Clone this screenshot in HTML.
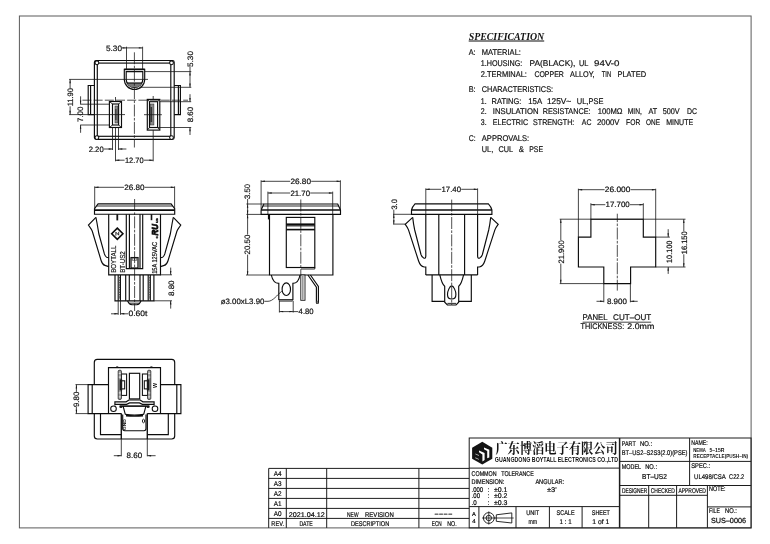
<!DOCTYPE html>
<html><head><meta charset="utf-8"><title>BT-US2</title>
<style>
html,body{margin:0;padding:0;background:#fff;}
body{width:770px;height:544px;overflow:hidden;font-family:"Liberation Sans",sans-serif;}
svg{display:block}
.o{fill:none;stroke:#0c0c0c;stroke-width:1.15}
.ot{fill:none;stroke:#0c0c0c;stroke-width:1.6}
.tl{fill:none;stroke:#1c1c1c;stroke-width:1}
.tl2{fill:none;stroke:#1c1c1c;stroke-width:1.5}
.of{fill:#fff;stroke:#0c0c0c;stroke-width:1.05}
.d{fill:none;stroke:#161616;stroke-width:.8}
.c{fill:none;stroke:#161616;stroke-width:.75;stroke-dasharray:12 1.4 2.6 1.4}
.f{fill:none;stroke:#5a5a5a;stroke-width:1}
.g{fill:none;stroke:#141414;stroke-width:.9}
.ar{fill:#141414;stroke:none}
.k{fill:#141414;stroke:none}
.gr{fill:#777;stroke:none}
.gthick{fill:none;stroke:#555;stroke-width:1.3;stroke-dasharray:1.6 .8}
.t{font-family:"Liberation Sans",sans-serif;fill:#111;stroke:#111;stroke-width:.2;text-rendering:geometricPrecision}
.t2{font-family:"Liberation Sans",sans-serif;fill:#0a0a0a;stroke:#0a0a0a;stroke-width:.2;text-rendering:geometricPrecision}
.tb{font-family:"Liberation Sans",sans-serif;fill:#111;font-weight:bold}
.ts{font-family:"Liberation Serif",serif;fill:#111;font-weight:bold;font-style:italic}
.tc{font-family:"Liberation Serif","Noto Serif CJK SC",serif;fill:#141414;font-weight:bold}
</style></head><body>
<svg width="770" height="544" viewBox="0 0 770 544">
<rect x="0" y="0" width="770" height="544" fill="#fff"/>
<defs><filter id="n" x="0" y="0" width="770" height="544" filterUnits="userSpaceOnUse" color-interpolation-filters="sRGB"><feOffset dx="0" dy="0"/></filter></defs>
<g filter="url(#n)">
<rect class="f" x="19.4" y="16" width="731.7" height="511.9"/>
<rect class="o" x="94.4" y="60.5" width="79.8" height="78.9" rx="1.8"/>
<rect class="o" x="97.3" y="63.1" width="73.5" height="73.2"/>
<circle class="of" cx="96.9" cy="62.8" r="1.9"/>
<circle class="of" cx="171.5" cy="62.8" r="1.9"/>
<circle class="of" cx="96.9" cy="137.6" r="1.9"/>
<circle class="of" cx="171.5" cy="137.6" r="1.9"/>
<path class="o" d="M94.4 85.5H88.2V114.6H94.4M90.6 85.5V114.6"/>
<path class="o" d="M174.2 85.5H180.4V114.6H174.2M178.4 85.5V114.6"/>
<path class="o" d="M124.3 69.3H144.7V79.3A10.2 10.2 0 0 1 124.3 79.3Z"/>
<path class="ot" d="M124.3 69.4L144.7 69.4"/>
<path class="o" d="M126.2 71.6H142.8V79.3A8.3 8.3 0 0 1 126.2 79.3Z"/>
<path class="gr" d="M127.1 83H141.9A8.3 8.3 0 0 1 127.1 83Z"/>
<path class="o" d="M127 83L142 83"/>
<rect class="o" x="109.4" y="101.5" width="12.1" height="26"/>
<rect class="o" x="112.5" y="104" width="6.1" height="21"/>
<path class="g" d="M109.4 101.5L112.5 104M121.5 101.5L118.6 104M109.4 127.5L112.5 125M121.5 127.5L118.6 125"/>
<rect x="115" y="106" width="2.8" height="17" fill="#8a8a8a" stroke="#333" stroke-width=".6"/>
<rect x="115.2" y="109" width="1.26" height="11" fill="#333"/>
<rect class="o" x="147.3" y="99.4" width="12.5" height="30.7"/>
<rect class="o" x="149.5" y="101.7" width="8.1" height="25.8"/>
<path class="g" d="M147.3 99.4L149.5 101.7M159.8 99.4L157.6 101.7M147.3 130.1L149.5 127.5M159.8 130.1L157.6 127.5"/>
<rect x="150.3" y="104" width="3.6" height="21" fill="#8a8a8a" stroke="#333" stroke-width=".6"/>
<rect x="150.5" y="107" width="1.62" height="15" fill="#333"/>
<path class="c" style="stroke-dasharray:9 2.2" d="M82.4 100.2H188"/>
<path class="c" d="M134.4 52.3L134.4 147.5"/>
<path class="d" d="M144 114.7L161.9 114.7"/>
<path class="d" d="M115.5 97L115.5 101.5"/>
<path class="d" d="M153.2 96L153.2 99.4"/>
<path class="d" d="M126.5 46.7L126.5 69.3"/>
<path class="d" d="M142.6 46.7L142.6 69.3"/>
<path class="d" d="M122 47.9L142.6 47.9"/>
<polygon class="ar" points="126.5,47.9 122.7,47.2 122.7,48.6"/>
<polygon class="ar" points="142.6,47.9 138.8,47.2 138.8,48.6"/>
<text class="t" x="106" y="50.7" font-size="7.8" textLength="16" lengthAdjust="spacingAndGlyphs">5.30</text>
<path class="d" d="M144.7 71.6L191.3 71.6"/>
<path class="d" d="M140 87.3L191.3 87.3"/>
<path class="d" d="M190 67L190 87.3"/>
<polygon class="ar" points="190,71.6 189.3,75.4 190.7,75.4"/>
<polygon class="ar" points="190,87.3 189.3,83.5 190.7,83.5"/>
<text class="t" x="193.1" y="67" font-size="7.8" textLength="16" lengthAdjust="spacingAndGlyphs" transform="rotate(-90 193.1 67)">5.30</text>
<path class="d" d="M159.8 101.7L191.2 101.7"/>
<path class="d" d="M157.6 127.5L191.2 127.5"/>
<path class="d" d="M190 94.2L190 101.7"/>
<polygon class="ar" points="190,101.7 189.3,97.9 190.7,97.9"/>
<path class="d" d="M190 127.5L190 135"/>
<polygon class="ar" points="190,127.5 189.3,131.3 190.7,131.3"/>
<text class="t" x="192.6" y="122.3" font-size="7.8" textLength="15.4" lengthAdjust="spacingAndGlyphs" transform="rotate(-90 192.6 122.3)">8.60</text>
<path class="d" d="M69.1 79.4L148 79.4"/>
<path class="d" d="M69.1 114.6L125 114.6"/>
<path class="d" d="M70.1 79.4L70.1 88"/>
<path class="d" d="M70.1 106.3L70.1 114.6"/>
<polygon class="ar" points="70.1,79.4 69.4,83.2 70.8,83.2"/>
<polygon class="ar" points="70.1,114.6 69.4,110.8 70.8,110.8"/>
<text class="t" x="73.1" y="106.3" font-size="7.8" textLength="18.3" lengthAdjust="spacingAndGlyphs" transform="rotate(-90 73.1 106.3)">11.90</text>
<path class="d" d="M80.2 104.2L109.4 104.2"/>
<path class="d" d="M80.2 125L109.4 125"/>
<path class="d" d="M80.6 96.3L80.6 104.2"/>
<polygon class="ar" points="80.6,104.2 79.9,100.4 81.3,100.4"/>
<path class="d" d="M80.6 125L80.6 132.8"/>
<polygon class="ar" points="80.6,125 79.9,128.8 81.3,128.8"/>
<text class="t" x="83.2" y="122" font-size="7.8" textLength="15.5" lengthAdjust="spacingAndGlyphs" transform="rotate(-90 83.2 122)">7.00</text>
<path class="d" d="M112.5 127.5L112.5 150"/>
<path class="d" d="M118.5 127.5L118.5 150"/>
<path class="d" d="M104 149L112.5 149"/>
<polygon class="ar" points="112.5,149 108.7,148.3 108.7,149.7"/>
<path class="d" d="M118.5 149L126.4 149"/>
<polygon class="ar" points="118.5,149 122.3,148.3 122.3,149.7"/>
<text class="t" x="88.7" y="151.5" font-size="7.8" textLength="15" lengthAdjust="spacingAndGlyphs">2.20</text>
<path class="d" d="M115.5 127.5L115.5 161.3"/>
<path class="d" d="M153.2 130.1L153.2 161.3"/>
<path class="d" d="M115.5 160.2L124.6 160.2"/>
<path class="d" d="M144 160.2L153.2 160.2"/>
<polygon class="ar" points="115.5,160.2 119.3,159.5 119.3,160.9"/>
<polygon class="ar" points="153.2,160.2 149.4,159.5 149.4,160.9"/>
<text class="t" x="124.9" y="162.6" font-size="7.8" textLength="18.8" lengthAdjust="spacingAndGlyphs">12.70</text>
<path class="o" d="M98.1 203.8H171.1L174.7 208.6V214.2H94.5V208.6Z"/>
<path class="ot" d="M94.5 210.1L174.7 210.1"/>
<path class="g" d="M96.6 206L172.6 206"/>
<path class="o" d="M108.7 214.2V274.9H160.5V214.2"/>
<path class="o" d="M126.3 214.2V268.6H142.7V214.2M129.4 214.2V268.6M140 214.2V268.6"/>
<rect class="k" x="116.4" y="214.2" width="1.8" height="6.2"/>
<rect class="k" x="150.7" y="214.2" width="1.6" height="6"/>
<rect x="131" y="257.6" width="7" height="10.4" fill="#fff" stroke="#141414" stroke-width="1.3"/>
<rect x="131.6" y="258" width="5.8" height="2.6" fill="#555"/>
<rect x="132.6" y="258.6" width="1.4" height="1.2" fill="#fff"/><rect x="135" y="258.6" width="1.4" height="1.2" fill="#fff"/>
<path class="o" d="M95.9 217.3L88.4 225C89.6 227.2 91.4 228.8 92.3 231.3L101.1 260.5C102 263.4 102.9 264.8 104.9 265.4L108.7 266.6"/>
<path class="o" d="M95.9 217.3L97 223L98.9 234L104.4 253.9C105 255.8 105.6 256.8 106.6 257.2L108.7 257.7"/>
<path class="o" d="M173.3 217.3 L180.8 225 C179.6 227.2 177.8 228.8 176.9 231.3 L168.1 260.5 C167.2 263.4 166.3 264.8 164.3 265.4 L160.5 266.6 "/>
<path class="o" d="M173.3 217.3 L172.2 223 L170.3 234 L164.8 253.9 C164.2 255.8 163.6 256.8 162.6 257.2 L160.5 257.7 "/>
<path class="ot" d="M117.3 228.1L122.9 233.7L117.3 239.3L111.7 233.7Z"/>
<path class="g" d="M115.9 235.6V232.2L118.7 235.2V231.8"/>
<g transform="translate(158.4 238.6) rotate(-90)"><text class="tb" x="0" y="-.3" font-size="4.2" stroke="#0a0a0a" stroke-width=".3">c</text><text class="tb" x="3.1" y="0" font-size="9.6" font-style="italic" textLength="11.4" lengthAdjust="spacingAndGlyphs" stroke="#0a0a0a" stroke-width=".8">RU</text><text class="tb" x="15.6" y="-.3" font-size="4.2" stroke="#0a0a0a" stroke-width=".3">us</text></g>
<text class="t" x="116.4" y="272.8" font-size="7.2" textLength="27.2" lengthAdjust="spacingAndGlyphs" transform="rotate(-90 116.4 272.8)">BOYTALL</text>
<text class="t" x="124.6" y="272.8" font-size="7.2" textLength="21.5" lengthAdjust="spacingAndGlyphs" transform="rotate(-90 124.6 272.8)">BT-US2</text>
<text class="t" x="157.5" y="273.8" font-size="7.2" textLength="31.8" lengthAdjust="spacingAndGlyphs" transform="rotate(-90 157.5 273.8)">15A 125VAC</text>
<path class="o" d="M115 274.9V300.8H153.9V274.9"/>
<path class="o" d="M118.2 274.9L118.2 300.8"/>
<path class="o" d="M120.4 274.9L120.4 300.8"/>
<path class="o" d="M125.7 274.9L125.7 300.8"/>
<path class="o" d="M129.3 274.9L129.3 300.8"/>
<path class="o" d="M140 274.9L140 300.8"/>
<path class="o" d="M143.2 274.9L143.2 300.8"/>
<path class="o" d="M148.2 274.9L148.2 300.8"/>
<path class="o" d="M150.3 274.9L150.3 300.8"/>
<path class="gthick" d="M119.3 277L119.3 299"/>
<path class="gthick" d="M149.2 277L149.2 299"/>
<path class="o" d="M127.6 300.8C128.6 303.6 130 304.7 132 304.7H136.8C138.8 304.7 140 303.6 141 300.8"/>
<path class="g" d="M129 303.2L140 303.2"/>
<path class="c" d="M134.6 199L134.6 311"/>
<path class="d" d="M94.7 186.4L94.7 209"/>
<path class="d" d="M174.6 186.4L174.6 209"/>
<path class="d" d="M94.7 187.3L124 187.3"/>
<path class="d" d="M144.6 187.3L174.6 187.3"/>
<polygon class="ar" points="94.7,187.3 98.5,186.6 98.5,188"/>
<polygon class="ar" points="174.6,187.3 170.8,186.6 170.8,188"/>
<text class="t" x="124.2" y="189.8" font-size="7.8" textLength="20.3" lengthAdjust="spacingAndGlyphs">26.80</text>
<path class="d" d="M160.5 274.8L172 274.8"/>
<path class="d" d="M153.9 300.8L172 300.8"/>
<path class="d" d="M170.7 267.6L170.7 274.8"/>
<polygon class="ar" points="170.7,274.8 170,271 171.4,271"/>
<path class="d" d="M170.7 300.8L170.7 308.6"/>
<polygon class="ar" points="170.7,300.8 170,304.6 171.4,304.6"/>
<text class="t" x="174.4" y="296" font-size="7.8" textLength="15.6" lengthAdjust="spacingAndGlyphs" transform="rotate(-90 174.4 296)">8.80</text>
<path class="d" d="M118.2 300.8L118.2 314.8"/>
<path class="d" d="M120.5 300.8L120.5 314.8"/>
<path class="d" d="M111 313.8L118.2 313.8"/>
<polygon class="ar" points="118.2,313.8 114.4,313.1 114.4,314.5"/>
<path class="d" d="M120.5 313.8L128.2 313.8"/>
<polygon class="ar" points="120.5,313.8 124.3,313.1 124.3,314.5"/>
<text class="t" x="128.5" y="316.4" font-size="7.8" textLength="19" lengthAdjust="spacingAndGlyphs">0.60t</text>
<path class="o" d="M94.3 384.6V362.4Q94.3 359.4 97.3 359.4H171.7Q174.7 359.4 174.7 362.4V384.6M174.7 413.6V436Q174.7 439 171.7 439H97.3Q94.3 439 94.3 436V413.6"/>
<path class="o" d="M108.5 384.6H88.1V413.6H121.3M92.2 384.6V413.6"/>
<path class="o" d="M160.5 384.6H180.9V413.6H147.3M176.8 384.6V413.6"/>
<path class="o" d="M108.5 413.6V367.6H160.5V413.6"/>
<rect class="k" x="116.2" y="366.4" width="2" height="1.2"/>
<rect class="k" x="150.4" y="366.4" width="2" height="1.2"/>
<path class="o" d="M100.5 413.6V434.6H121.3M168.3 413.6V434.6H147.3"/>
<path class="d" d="M121.3 413.6L121.3 456.3"/>
<path class="d" d="M147.3 413.6L147.3 456.3"/>
<path class="o" d="M121.3 413.6L121.3 439"/>
<path class="o" d="M147.3 413.6L147.3 439"/>
<rect class="o" x="129.4" y="373.3" width="10.3" height="25.6"/>
<rect class="of" x="121.4" y="374" width="5.2" height="21.4"/>
<rect x="118.2" y="370.3" width="3.2" height="29.1" rx="1" fill="#a0a0a0" stroke="#1a1a1a" stroke-width=".8"/>
<rect x="118.8" y="372.8" width="2" height="1" fill="#eee"/>
<rect x="118.8" y="376.6" width="2" height="1" fill="#eee"/>
<rect x="118.8" y="392.4" width="2" height="1" fill="#eee"/>
<rect x="118.8" y="396.4" width="2" height="1" fill="#eee"/>
<rect class="of" x="120.6" y="380.8" width="4.1" height="8.1"/>
<rect x="119.6" y="379.4" width="2.6" height="11" fill="#1a1a1a"/>
<rect class="of" x="142.4" y="374" width="5.2" height="21.4"/>
<rect x="147.6" y="370.3" width="3.2" height="29.1" rx="1" fill="#a0a0a0" stroke="#1a1a1a" stroke-width=".8"/>
<rect x="148.2" y="372.8" width="2" height="1" fill="#eee"/>
<rect x="148.2" y="376.6" width="2" height="1" fill="#eee"/>
<rect x="148.2" y="392.4" width="2" height="1" fill="#eee"/>
<rect x="148.2" y="396.4" width="2" height="1" fill="#eee"/>
<rect class="of" x="144.3" y="380.8" width="4.1" height="8.1"/>
<rect x="146.8" y="379.4" width="2.6" height="11" fill="#1a1a1a"/>
<text class="tb" x="157" y="387.9" font-size="5.2" textLength="5" lengthAdjust="spacingAndGlyphs" transform="rotate(-90 157 387.9)">W</text>
<path class="o" d="M114.9 405.6V401.8H126.1L128.9 400H140.1L142.9 401.8H154.1V405.6"/>
<path class="o" d="M114.9 404.3H126.6L129.6 402.9H139.4L142.4 404.3H154.1"/>
<circle class="of" cx="113.5" cy="408.7" r="2.8"/>
<circle class="of" cx="155" cy="408.7" r="2.8"/>
<path class="ot" d="M119.6 406.1L149.4 406.1"/>
<rect class="k" x="119.6" y="406" width="2.6" height="1.9"/>
<rect class="k" x="146.8" y="406" width="2.6" height="1.9"/>
<path class="o" d="M123.1 406.1L125.3 414.3M145.9 406.1L143.7 414.3"/>
<path class="o" d="M125.2 414.4Q134.5 415.6 143.8 414.4"/>
<path class="ot" d="M126 415.6Q134.5 416.4 143 415.6"/>
<path class="o" d="M122.7 414.5V428.6Q122.7 430.7 124.8 430.7H143.9Q146 430.7 146 428.6V414.5"/>
<text class="tb" x="126.4" y="430.2" font-size="4.3" textLength="11" lengthAdjust="spacingAndGlyphs" transform="rotate(-90 126.4 430.2)">GND</text>
<ellipse cx="143.5" cy="421" rx="1.1" ry="1.8" class="g"/>
<path class="d" d="M75.5 384.6L88.1 384.6"/>
<path class="d" d="M75.5 413.6L88.1 413.6"/>
<path class="d" d="M76.4 384.6L76.4 391.8"/>
<path class="d" d="M76.4 407L76.4 413.6"/>
<polygon class="ar" points="76.4,384.6 75.7,388.4 77.1,388.4"/>
<polygon class="ar" points="76.4,413.6 75.7,409.8 77.1,409.8"/>
<text class="t" x="79.3" y="407" font-size="7.8" textLength="15.3" lengthAdjust="spacingAndGlyphs" transform="rotate(-90 79.3 407)">9.80</text>
<path class="d" d="M113.8 455.7L121.3 455.7"/>
<polygon class="ar" points="121.3,455.7 117.5,455 117.5,456.4"/>
<path class="d" d="M147.3 455.7L155.6 455.7"/>
<polygon class="ar" points="147.3,455.7 151.1,455 151.1,456.4"/>
<text class="t" x="126.6" y="458.2" font-size="7.8" textLength="15.6" lengthAdjust="spacingAndGlyphs">8.60</text>
<path class="o" d="M263.9 204H337.7L340.5 210V214.4H261.1V210Z"/>
<path class="ot" d="M261.1 210L340.5 210"/>
<path class="g" d="M262.6 206L339 206"/>
<path class="o" d="M269.5 214.4V275H332.9V214.4"/>
<path class="ot" d="M268.7 214.4L268.7 219.4"/>
<rect class="o" x="286.3" y="217.4" width="28.5" height="50.1"/>
<path class="ot" d="M286.3 224.2L314.8 224.2"/>
<path class="o" d="M286.3 225.8L314.8 225.8"/>
<path class="ot" d="M286.3 229.6L314.8 229.6"/>
<path class="g" d="M301 269L314.8 269"/>
<path class="g" d="M314.8 267.5L314.8 269"/>
<path class="c" d="M300.8 199.5L300.8 276"/>
<path class="o" d="M271.3 275C272.5 280.5 275 283.4 278.8 283.4V299.6H292.9V283.4C296.5 283.4 299 280.5 300 275"/>
<rect x="279.6" y="299.4" width="12.6" height="1.8" fill="#888" stroke="#222" stroke-width=".6"/>
<ellipse cx="286.3" cy="289.2" rx="4.2" ry="6.3" class="o"/>
<rect x="300.8" y="275" width="4.2" height="25.3" fill="#fff" stroke="#141414" stroke-width=".9"/>
<rect x="302" y="275.5" width="1.6" height="24.3" fill="#999"/>
<path class="o" d="M307.9 275L316.4 287.2V302.6Q317.4 304.4 318.4 302.6V286.4L310.4 275"/>
<ellipse cx="317.4" cy="302.2" rx=".8" ry="1.6" fill="#777"/>
<path class="d" d="M264.4 301.3H268C273 301.3 277 295 281.8 291.2"/>
<text class="t" x="220.7" y="303.7" font-size="7.8" textLength="43.7" lengthAdjust="spacingAndGlyphs">ø3.00xL3.90</text>
<path class="d" d="M261.1 180.3L261.1 209"/>
<path class="d" d="M340.4 180.3L340.4 209"/>
<path class="d" d="M261.1 181.3L290.2 181.3"/>
<path class="d" d="M311.2 181.3L340.4 181.3"/>
<polygon class="ar" points="261.1,181.3 264.9,180.6 264.9,182"/>
<polygon class="ar" points="340.4,181.3 336.6,180.6 336.6,182"/>
<text class="t" x="290.4" y="183.9" font-size="7.8" textLength="20.6" lengthAdjust="spacingAndGlyphs">26.80</text>
<path class="d" d="M267.9 191.6L267.9 214.4"/>
<path class="d" d="M332.7 191.6L332.7 214.4"/>
<path class="d" d="M267.9 193L290.2 193"/>
<path class="d" d="M310.2 193L332.7 193"/>
<polygon class="ar" points="267.9,193 271.7,192.3 271.7,193.7"/>
<polygon class="ar" points="332.7,193 328.9,192.3 328.9,193.7"/>
<text class="t" x="290.4" y="195.6" font-size="7.8" textLength="19.6" lengthAdjust="spacingAndGlyphs">21.70</text>
<path class="d" d="M246.4 204L263.9 204"/>
<path class="d" d="M246.4 214.4L261.1 214.4"/>
<path class="d" d="M246 275L269.5 275"/>
<path class="d" d="M247.6 199L247.6 234.5"/>
<path class="d" d="M247.6 254.6L247.6 275"/>
<polygon class="ar" points="247.6,204 246.9,207.8 248.3,207.8"/>
<polygon class="ar" points="247.6,214.4 246.9,210.6 248.3,210.6"/>
<polygon class="ar" points="247.6,214.4 246.9,218.2 248.3,218.2"/>
<polygon class="ar" points="247.6,275 246.9,271.2 248.3,271.2"/>
<text class="t" x="250.4" y="199" font-size="7.8" textLength="15" lengthAdjust="spacingAndGlyphs" transform="rotate(-90 250.4 199)">3.50</text>
<text class="t" x="250.4" y="254.4" font-size="7.8" textLength="19.7" lengthAdjust="spacingAndGlyphs" transform="rotate(-90 250.4 254.4)">20.50</text>
<path class="d" d="M279.4 301L279.4 312.5"/>
<path class="d" d="M293.2 301L293.2 312.5"/>
<path class="d" d="M279.4 311.6L298.3 311.6"/>
<polygon class="ar" points="279.4,311.6 283.2,310.9 283.2,312.3"/>
<polygon class="ar" points="293.2,311.6 289.4,310.9 289.4,312.3"/>
<text class="t" x="298.6" y="314.4" font-size="7.8" textLength="15" lengthAdjust="spacingAndGlyphs">4.80</text>
<path class="o" d="M415 203.8H488.4Q491 206.5 491.9 210V214.3H411.5V210Q412.4 206.5 415 203.8Z"/>
<path class="ot" d="M411.5 210L491.9 210"/>
<path class="d" d="M425.8 188.4L425.8 214.3"/>
<path class="d" d="M477.6 188.4L477.6 214.3"/>
<path class="o" d="M412.7 217.4L405.2 224.3C406.6 226.2 407.8 227.6 408.5 229.8L418.6 261C419.6 264 421 266.6 424.1 267H425.8V274.9"/>
<path class="o" d="M412.7 217.4C413.2 222 413.8 226 414.7 230L421 254.5C421.6 256.6 422.6 257.8 424 258.2C425.2 258.4 425.8 257.6 425.8 256V214.3"/>
<path class="o" d="M490.7 217.4 L498.2 224.3 C496.8 226.2 495.6 227.6 494.9 229.8 L484.8 261 C483.8 264 482.4 266.6 479.3 267 H477.6 V274.9 "/>
<path class="o" d="M490.7 217.4 C490.2 222 489.6 226 488.7 230 L482.4 254.5 C481.8 256.6 480.8 257.8 479.4 258.2 C478.2 258.4 477.6 257.6 477.6 256 V214.3 "/>
<path class="o" d="M425.8 274.9L477.6 274.9"/>
<path class="o" d="M438.8 214.3L438.8 274.9"/>
<path class="o" d="M464.6 214.3L464.6 274.9"/>
<path class="o" d="M432.1 274.9V301.3H444.7M471.3 274.9V301.3H458.6"/>
<path class="o" d="M439.8 274.9C441 280 442.4 284.6 444.7 286.3V302.2L447.4 305H451.7"/>
<path class="o" d="M463.6 274.9 C462.4 280 461 284.6 458.7 286.3 V302.2 L456 305 H451.7 "/>
<path class="o" d="M451.7 285.9C453.6 285.9 455.9 291 455.9 294.4C455.9 297.4 454 299 451.7 299C449.4 299 447.5 297.4 447.5 294.4C447.5 291 449.8 285.9 451.7 285.9Z"/>
<path class="g" d="M447.4 303.4L456 303.4"/>
<path class="c" d="M451.7 199.6L451.7 305"/>
<path class="d" d="M425.8 189.3L441.3 189.3"/>
<path class="d" d="M461.2 189.3L477.6 189.3"/>
<polygon class="ar" points="425.8,189.3 429.6,188.6 429.6,190"/>
<polygon class="ar" points="477.6,189.3 473.8,188.6 473.8,190"/>
<text class="t" x="441.5" y="192" font-size="7.8" textLength="19.5" lengthAdjust="spacingAndGlyphs">17.40</text>
<path class="d" d="M393 214.3L411.5 214.3"/>
<path class="d" d="M393 224.1L405.2 224.1"/>
<path class="d" d="M393.8 209.6L393.8 224.1"/>
<polygon class="ar" points="393.8,214.3 393.1,218.1 394.5,218.1"/>
<polygon class="ar" points="393.8,224.1 393.1,220.3 394.5,220.3"/>
<text class="t" x="396.9" y="209.6" font-size="7.8" textLength="10.4" lengthAdjust="spacingAndGlyphs" transform="rotate(-90 396.9 209.6)">3.0</text>
<path class="o" d="M590.9 219.2H643.3V237.1H655.7V267H630.6V283.6H603.8V267H578.4V237.1H590.9Z"/>
<path class="c" stroke-dashoffset="3.6" d="M617.3 213.7V290.6"/>
<path class="d" d="M578.4 188.7L578.4 237.1"/>
<path class="d" d="M655.7 188.7L655.7 237.1"/>
<path class="d" d="M578.4 189.7L604.6 189.7"/>
<path class="d" d="M630.6 189.7L655.7 189.7"/>
<polygon class="ar" points="578.4,189.7 582.2,189 582.2,190.4"/>
<polygon class="ar" points="655.7,189.7 651.9,189 651.9,190.4"/>
<text class="t" x="604.8" y="192.4" font-size="7.8" textLength="25.6" lengthAdjust="spacingAndGlyphs">26.000</text>
<path class="d" d="M590.9 203.2L590.9 219.2"/>
<path class="d" d="M643.3 203.2L643.3 219.2"/>
<path class="d" d="M590.9 204.7L605.3 204.7"/>
<path class="d" d="M630 204.7L643.3 204.7"/>
<polygon class="ar" points="590.9,204.7 594.7,204 594.7,205.4"/>
<polygon class="ar" points="643.3,204.7 639.5,204 639.5,205.4"/>
<text class="t" x="605.5" y="207.4" font-size="7.8" textLength="24.3" lengthAdjust="spacingAndGlyphs">17.700</text>
<path class="d" d="M559.7 219.2L685.5 219.2"/>
<path class="d" d="M559.7 283.6L603.8 283.6"/>
<path class="d" d="M560.8 219.2L560.8 240"/>
<path class="d" d="M560.8 263.6L560.8 283.6"/>
<polygon class="ar" points="560.8,219.2 560.1,223 561.5,223"/>
<polygon class="ar" points="560.8,283.6 560.1,279.8 561.5,279.8"/>
<text class="t" x="563.8" y="263.5" font-size="7.8" textLength="23.3" lengthAdjust="spacingAndGlyphs" transform="rotate(-90 563.8 263.5)">21.900</text>
<path class="d" d="M655.7 267L685.5 267"/>
<path class="d" d="M655.7 237.1L669.9 237.1"/>
<path class="d" d="M683.8 219.2L683.8 231.2"/>
<path class="d" d="M683.8 254.3L683.8 267"/>
<polygon class="ar" points="683.8,219.2 683.1,223 684.5,223"/>
<polygon class="ar" points="683.8,267 683.1,263.2 684.5,263.2"/>
<text class="t" x="687.5" y="254.2" font-size="7.8" textLength="22.9" lengthAdjust="spacingAndGlyphs" transform="rotate(-90 687.5 254.2)">16.150</text>
<path class="d" d="M668.2 229.2L668.2 237.1"/>
<polygon class="ar" points="668.2,237.1 667.5,233.3 668.9,233.3"/>
<path class="d" d="M668.2 267L668.2 273.9"/>
<polygon class="ar" points="668.2,267 667.5,270.8 668.9,270.8"/>
<text class="t" x="672" y="263" font-size="7.8" textLength="22.4" lengthAdjust="spacingAndGlyphs" transform="rotate(-90 672 263)">10.100</text>
<path class="d" d="M603.8 283.6L603.8 302.3"/>
<path class="d" d="M630.4 283.6L630.4 302.3"/>
<path class="d" d="M596.5 301.3L603.8 301.3"/>
<polygon class="ar" points="603.8,301.3 600,300.6 600,302"/>
<path class="d" d="M630.4 301.3L637.7 301.3"/>
<polygon class="ar" points="630.4,301.3 634.2,300.6 634.2,302"/>
<text class="t" x="606.9" y="303.8" font-size="7.8" textLength="20" lengthAdjust="spacingAndGlyphs">8.900</text>
<text class="t" x="582.6" y="320.3" font-size="8.2" textLength="24.9" lengthAdjust="spacingAndGlyphs">PANEL</text>
<text class="t" x="613.1" y="320.3" font-size="8.2" textLength="38.1" lengthAdjust="spacingAndGlyphs">CUT–OUT</text>
<path class="d" d="M582.6 322.2L651.2 322.2"/>
<text class="t" x="580.5" y="329.4" font-size="8.2" textLength="43.7" lengthAdjust="spacingAndGlyphs">THICKNESS:</text>
<text class="t" x="627.3" y="329.4" font-size="8.2" textLength="27" lengthAdjust="spacingAndGlyphs">2.0mm</text>
<text class="ts" x="468.7" y="39.6" font-size="10.6" textLength="75.5" lengthAdjust="spacingAndGlyphs">SPECIFICATION</text>
<path class="o" d="M468.7 41L544.2 41"/>
<text class="t" x="468.7" y="54.5" font-size="8.3" textLength="6.9" lengthAdjust="spacingAndGlyphs">A:</text>
<text class="t" x="481.8" y="54.5" font-size="8.3" textLength="39.1" lengthAdjust="spacingAndGlyphs">MATERIAL:</text>
<text class="t" x="480.8" y="66.2" font-size="8.3" textLength="41.5" lengthAdjust="spacingAndGlyphs">1.HOUSING:</text>
<text class="t" x="529.6" y="66.2" font-size="8.3" textLength="45.7" lengthAdjust="spacingAndGlyphs">PA(BLACK),</text>
<text class="t" x="578.9" y="66.2" font-size="8.3" textLength="9.4" lengthAdjust="spacingAndGlyphs">UL</text>
<text class="t" x="594.1" y="66.2" font-size="8.3" textLength="25.4" lengthAdjust="spacingAndGlyphs">94V-0</text>
<text class="t" x="480.8" y="77.4" font-size="8.3" textLength="46.1" lengthAdjust="spacingAndGlyphs">2.TERMINAL:</text>
<text class="t" x="534.4" y="77.4" font-size="8.3" textLength="29.5" lengthAdjust="spacingAndGlyphs">COPPER</text>
<text class="t" x="570.1" y="77.4" font-size="8.3" textLength="24.5" lengthAdjust="spacingAndGlyphs">ALLOY,</text>
<text class="t" x="601.8" y="77.4" font-size="8.3" textLength="9.4" lengthAdjust="spacingAndGlyphs">TIN</text>
<text class="t" x="617.4" y="77.4" font-size="8.3" textLength="28.7" lengthAdjust="spacingAndGlyphs">PLATED</text>
<text class="t" x="468.7" y="92.2" font-size="8.3" textLength="6.9" lengthAdjust="spacingAndGlyphs">B:</text>
<text class="t" x="481.8" y="92.2" font-size="8.3" textLength="71.3" lengthAdjust="spacingAndGlyphs">CHARACTERISTICS:</text>
<text class="t" x="480.8" y="103.6" font-size="8.3" textLength="5.8" lengthAdjust="spacingAndGlyphs">1.</text>
<text class="t" x="491.6" y="103.6" font-size="8.3" textLength="29.7" lengthAdjust="spacingAndGlyphs">RATING:</text>
<text class="t" x="528.2" y="103.6" font-size="8.3" textLength="13.9" lengthAdjust="spacingAndGlyphs">15A</text>
<text class="t" x="546.9" y="103.6" font-size="8.3" textLength="24.3" lengthAdjust="spacingAndGlyphs">125V~</text>
<text class="t" x="576.8" y="103.6" font-size="8.3" textLength="26.6" lengthAdjust="spacingAndGlyphs">UL,PSE</text>
<text class="t" x="480.8" y="114" font-size="8.3" textLength="5.8" lengthAdjust="spacingAndGlyphs">2.</text>
<text class="t" x="492.8" y="114" font-size="8.3" textLength="45.7" lengthAdjust="spacingAndGlyphs">INSULATION</text>
<text class="t" x="542.7" y="114" font-size="8.3" textLength="47.8" lengthAdjust="spacingAndGlyphs">RESISTANCE:</text>
<text class="t" x="597.7" y="114" font-size="8.3" textLength="24.9" lengthAdjust="spacingAndGlyphs">100MΩ</text>
<text class="t" x="627.8" y="114" font-size="8.3" textLength="14.1" lengthAdjust="spacingAndGlyphs">MIN,</text>
<text class="t" x="648.6" y="114" font-size="8.3" textLength="8.7" lengthAdjust="spacingAndGlyphs">AT</text>
<text class="t" x="662.7" y="114" font-size="8.3" textLength="17" lengthAdjust="spacingAndGlyphs">500V</text>
<text class="t" x="687" y="114" font-size="8.3" textLength="10" lengthAdjust="spacingAndGlyphs">DC</text>
<text class="t" x="480.8" y="124.8" font-size="8.3" textLength="5.8" lengthAdjust="spacingAndGlyphs">3.</text>
<text class="t" x="492.8" y="124.8" font-size="8.3" textLength="35.4" lengthAdjust="spacingAndGlyphs">ELECTRIC</text>
<text class="t" x="533.1" y="124.8" font-size="8.3" textLength="41.2" lengthAdjust="spacingAndGlyphs">STRENGTH:</text>
<text class="t" x="581.8" y="124.8" font-size="8.3" textLength="9.6" lengthAdjust="spacingAndGlyphs">AC</text>
<text class="t" x="597" y="124.8" font-size="8.3" textLength="22.5" lengthAdjust="spacingAndGlyphs">2000V</text>
<text class="t" x="626.1" y="124.8" font-size="8.3" textLength="14.2" lengthAdjust="spacingAndGlyphs">FOR</text>
<text class="t" x="646.1" y="124.8" font-size="8.3" textLength="13.9" lengthAdjust="spacingAndGlyphs">ONE</text>
<text class="t" x="666.2" y="124.8" font-size="8.3" textLength="27" lengthAdjust="spacingAndGlyphs">MINUTE</text>
<text class="t" x="468.7" y="140.5" font-size="8.3" textLength="6.9" lengthAdjust="spacingAndGlyphs">C:</text>
<text class="t" x="481.8" y="140.5" font-size="8.3" textLength="47.4" lengthAdjust="spacingAndGlyphs">APPROVALS:</text>
<text class="t" x="481.8" y="152.2" font-size="8.3" textLength="11.4" lengthAdjust="spacingAndGlyphs">UL,</text>
<text class="t" x="498.4" y="152.2" font-size="8.3" textLength="14.6" lengthAdjust="spacingAndGlyphs">CUL</text>
<text class="t" x="518.8" y="152.2" font-size="8.3" textLength="5.2" lengthAdjust="spacingAndGlyphs">&amp;</text>
<text class="t" x="529.2" y="152.2" font-size="8.3" textLength="13.9" lengthAdjust="spacingAndGlyphs">PSE</text>
<path class="tl" d="M268.7 468.4L469.2 468.4"/>
<path class="tl" d="M268.7 478.4L469.2 478.4"/>
<path class="tl" d="M268.7 488.4L469.2 488.4"/>
<path class="tl" d="M268.7 498.4L469.2 498.4"/>
<path class="tl" d="M268.7 508.4L469.2 508.4"/>
<path class="tl" d="M268.7 518.4L469.2 518.4"/>
<path class="tl" d="M268.7 468.4L268.7 527.9"/>
<path class="tl" d="M286.3 468.4L286.3 527.9"/>
<path class="tl" d="M326.7 468.4L326.7 527.9"/>
<path class="tl" d="M418.9 468.4L418.9 527.9"/>
<text class="t2" x="277.6" y="476.3" font-size="6.9" textLength="7.8" lengthAdjust="spacingAndGlyphs" text-anchor="middle">A4</text>
<text class="t2" x="277.6" y="486.3" font-size="6.9" textLength="7.8" lengthAdjust="spacingAndGlyphs" text-anchor="middle">A3</text>
<text class="t2" x="277.6" y="496.3" font-size="6.9" textLength="7.8" lengthAdjust="spacingAndGlyphs" text-anchor="middle">A2</text>
<text class="t2" x="277.6" y="506.3" font-size="6.9" textLength="7.8" lengthAdjust="spacingAndGlyphs" text-anchor="middle">A1</text>
<text class="t2" x="277.6" y="516.3" font-size="6.9" textLength="7.8" lengthAdjust="spacingAndGlyphs" text-anchor="middle">A0</text>
<text class="t2" x="288.7" y="516.5" font-size="6.9" textLength="36.1" lengthAdjust="spacingAndGlyphs">2021.04.12</text>
<text class="t2" x="347.1" y="516.5" font-size="6.9" textLength="11.4" lengthAdjust="spacingAndGlyphs">NEW</text>
<text class="t2" x="365" y="516.5" font-size="6.9" textLength="28.8" lengthAdjust="spacingAndGlyphs">REVISION</text>
<text class="t2" x="434.2" y="516" font-size="6.9" textLength="18.4" lengthAdjust="spacingAndGlyphs">----</text>
<text class="t2" x="271.3" y="526.3" font-size="6.9" textLength="12.7" lengthAdjust="spacingAndGlyphs">REV.</text>
<text class="t2" x="299.4" y="526.3" font-size="6.9" textLength="13.3" lengthAdjust="spacingAndGlyphs">DATE</text>
<text class="t2" x="351" y="526.3" font-size="6.9" textLength="38.2" lengthAdjust="spacingAndGlyphs">DESCRIPTION</text>
<text class="t2" x="431.8" y="526.3" font-size="6.9" textLength="9.9" lengthAdjust="spacingAndGlyphs">ECN</text>
<text class="t2" x="447.3" y="526.3" font-size="6.9" textLength="9.4" lengthAdjust="spacingAndGlyphs">NO.</text>
<rect class="tl" x="469.2" y="438" width="281.9" height="89.9"/>
<path class="tl" d="M469.2 468.1L619.6 468.1"/>
<path class="tl" d="M469.2 506.6L619.6 506.6"/>
<path class="tl2" d="M619.6 438L619.6 527.9"/>
<path class="tl" d="M478.9 506.6L478.9 527.9"/>
<path class="tl" d="M516 506.6L516 527.9"/>
<path class="tl" d="M549.4 506.6L549.4 527.9"/>
<path class="tl" d="M582.1 506.6L582.1 527.9"/>
<path class="tl" d="M619.6 461.4L751.1 461.4"/>
<path class="tl" d="M619.6 485.5L751.1 485.5"/>
<path class="tl" d="M689.6 438L689.6 485.5"/>
<path class="tl" d="M648.7 485.5L648.7 527.9"/>
<path class="tl" d="M676.6 485.5L676.6 527.9"/>
<path class="tl" d="M707.4 485.5L707.4 527.9"/>
<path class="tl" d="M619.6 495.3L707.4 495.3"/>
<path class="tl" d="M707.4 506.9L751.1 506.9"/>
<path class="k" d="M482.3 441.8L492.3 447.8V458.8L482.3 464.6L472.1 458.8V447.8Z"/>
<g fill="#fff"><path d="M484 447.5L489.3 449.8V457.4L487.2 458.3V451.1L484 449.3Z"/><path d="M479 450.4L484.6 453.1V460.1L482.4 461.5V454.6L479 452.2Z"/><path d="M475.3 453.4l3.6 1.6v.9l-3.6-1.6zM475.3 457.3l3.6 1.6v.9l-3.6-1.6z" fill="#bbb"/></g>
<text class="tc" x="495.4" y="452.9" font-size="13.4" textLength="122.3" lengthAdjust="spacingAndGlyphs">广东博滔电子有限公司</text>
<text class="tb" x="494.8" y="462" font-size="6.7" textLength="123.2" lengthAdjust="spacingAndGlyphs">GUANGDONG BOYTALL ELECTRONICS CO.,LTD</text>
<text class="t2" x="471.6" y="475.8" font-size="6.9" textLength="25" lengthAdjust="spacingAndGlyphs">COMMON</text>
<text class="t2" x="501.3" y="475.8" font-size="6.9" textLength="32.4" lengthAdjust="spacingAndGlyphs">TOLERANCE</text>
<text class="t2" x="471.6" y="483.8" font-size="6.9" textLength="32.8" lengthAdjust="spacingAndGlyphs">DIMENSION:</text>
<text class="t2" x="535.4" y="483.8" font-size="6.9" textLength="28.6" lengthAdjust="spacingAndGlyphs">ANGULAR:</text>
<text class="t2" x="546.9" y="491.8" font-size="6.9" textLength="9.8" lengthAdjust="spacingAndGlyphs">±3'</text>
<text class="t2" x="471.6" y="491.6" font-size="6.9" textLength="11.6" lengthAdjust="spacingAndGlyphs">.000</text>
<text class="t2" x="487.7" y="491.6" font-size="6.9" textLength="1.6" lengthAdjust="spacingAndGlyphs">:</text>
<text class="t2" x="494" y="491.6" font-size="6.9" textLength="13.5" lengthAdjust="spacingAndGlyphs">±0.1</text>
<text class="t2" x="471.6" y="498.4" font-size="6.9" textLength="8.4" lengthAdjust="spacingAndGlyphs">.00</text>
<text class="t2" x="487.7" y="498.4" font-size="6.9" textLength="1.6" lengthAdjust="spacingAndGlyphs">:</text>
<text class="t2" x="494" y="498.4" font-size="6.9" textLength="13.5" lengthAdjust="spacingAndGlyphs">±0.2</text>
<text class="t2" x="471.6" y="505.3" font-size="6.9" textLength="5.2" lengthAdjust="spacingAndGlyphs">.0</text>
<text class="t2" x="487.7" y="505.3" font-size="6.9" textLength="1.6" lengthAdjust="spacingAndGlyphs">:</text>
<text class="t2" x="494" y="505.3" font-size="6.9" textLength="13.5" lengthAdjust="spacingAndGlyphs">±0.3</text>
<text class="t2" x="474" y="515.9" font-size="5.6" textLength="3.8" lengthAdjust="spacingAndGlyphs" text-anchor="middle">A</text>
<text class="t2" x="474" y="523.1" font-size="5.6" textLength="3.4" lengthAdjust="spacingAndGlyphs" text-anchor="middle">4</text>
<circle class="g" cx="488.8" cy="518" r="5.4"/>
<circle class="g" cx="488.8" cy="518" r="2.7"/>
<path class="d" d="M482 518L495.5 518"/>
<path class="d" d="M488.8 511.4L488.8 524.6"/>
<path class="g" d="M496.3 514.8L511.8 512.9V523L496.3 521.3Z"/>
<path class="d" d="M494 518L513.7 518"/>
<text class="t2" x="532.7" y="514.8" font-size="6.9" textLength="13" lengthAdjust="spacingAndGlyphs" text-anchor="middle">UNIT</text>
<text class="t2" x="532.7" y="524.2" font-size="6.9" textLength="8.6" lengthAdjust="spacingAndGlyphs" text-anchor="middle">mm</text>
<text class="t2" x="565.6" y="514.8" font-size="6.9" textLength="18" lengthAdjust="spacingAndGlyphs" text-anchor="middle">SCALE</text>
<text class="t2" x="565.6" y="524.2" font-size="6.9" textLength="12" lengthAdjust="spacingAndGlyphs" text-anchor="middle" xml:space="preserve">1 : 1</text>
<text class="t2" x="600.8" y="514.8" font-size="6.9" textLength="18" lengthAdjust="spacingAndGlyphs" text-anchor="middle">SHEET</text>
<text class="t2" x="600.8" y="524.2" font-size="6.9" textLength="17" lengthAdjust="spacingAndGlyphs" text-anchor="middle" xml:space="preserve">1 of 1</text>
<text class="t2" x="621.8" y="445.5" font-size="6.9" textLength="13.9" lengthAdjust="spacingAndGlyphs">PART</text>
<text class="t2" x="640" y="445.5" font-size="6.9" textLength="12.1" lengthAdjust="spacingAndGlyphs">NO.:</text>
<text class="t2" x="621.8" y="455" font-size="6.9" textLength="65.6" lengthAdjust="spacingAndGlyphs">BT–US2–S2S3(2.0)(PSE)</text>
<text class="t2" x="691.3" y="444.6" font-size="6.9" textLength="16.5" lengthAdjust="spacingAndGlyphs">NAME:</text>
<text class="tb" x="693.3" y="452" font-size="5.8" textLength="12.4" lengthAdjust="spacingAndGlyphs">NEMA</text>
<text class="tb" x="709.4" y="452" font-size="5.8" textLength="15" lengthAdjust="spacingAndGlyphs">5–15R</text>
<text class="tb" x="693.3" y="458.4" font-size="5.8" textLength="54.8" lengthAdjust="spacingAndGlyphs">RECEPTACLE(PUSH–IN)</text>
<text class="t2" x="621.8" y="469.1" font-size="6.9" textLength="19.3" lengthAdjust="spacingAndGlyphs">MODEL</text>
<text class="t2" x="645.2" y="469.1" font-size="6.9" textLength="11.8" lengthAdjust="spacingAndGlyphs">NO.:</text>
<text class="t2" x="642.1" y="478.8" font-size="7.2" textLength="24.7" lengthAdjust="spacingAndGlyphs">BT–US2</text>
<text class="t2" x="691.3" y="468.1" font-size="6.9" textLength="18.8" lengthAdjust="spacingAndGlyphs">SPEC.:</text>
<text class="t2" x="694.1" y="478.9" font-size="6.9" textLength="31.6" lengthAdjust="spacingAndGlyphs">UL498/CSA</text>
<text class="t2" x="729.1" y="478.9" font-size="6.9" textLength="15.1" lengthAdjust="spacingAndGlyphs">C22.2</text>
<text class="t2" x="622" y="493.2" font-size="6.9" textLength="25.3" lengthAdjust="spacingAndGlyphs">DESIGNER</text>
<text class="t2" x="650.8" y="493.2" font-size="6.9" textLength="24.1" lengthAdjust="spacingAndGlyphs">CHECKED</text>
<text class="t2" x="678.5" y="493.2" font-size="6.9" textLength="27.4" lengthAdjust="spacingAndGlyphs">APPROVED</text>
<text class="t2" x="709" y="491.1" font-size="6.9" textLength="16.6" lengthAdjust="spacingAndGlyphs">NOTE:</text>
<text class="t2" x="709.1" y="512.8" font-size="6.9" textLength="10.7" lengthAdjust="spacingAndGlyphs">FILE</text>
<text class="t2" x="725" y="512.8" font-size="6.9" textLength="11.9" lengthAdjust="spacingAndGlyphs">NO.:</text>
<text class="t2" x="710.9" y="523" font-size="7.4" textLength="35.1" lengthAdjust="spacingAndGlyphs">SUS–0006</text>
</g>
</svg>
</body></html>
